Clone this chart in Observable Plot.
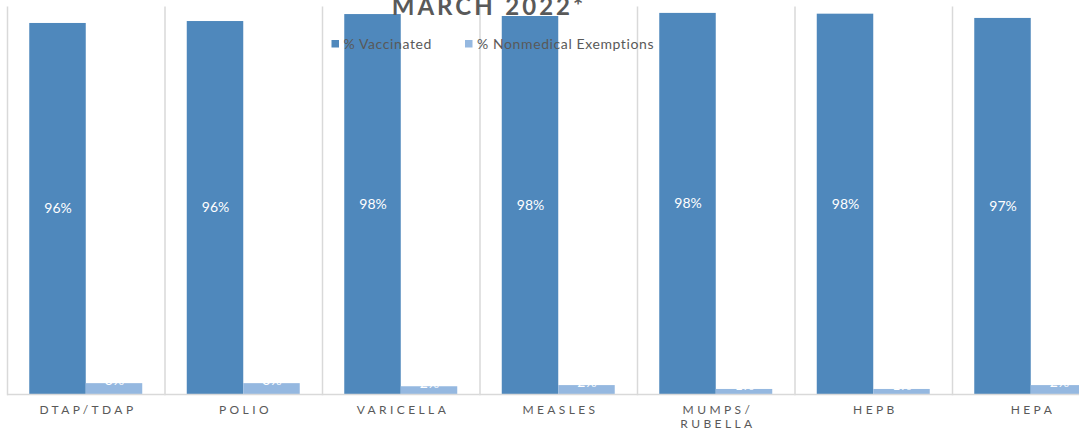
<!DOCTYPE html>
<html><head><meta charset="utf-8">
<script src="https://cdn.jsdelivr.net/npm/d3@7"></script>
<script src="https://cdn.jsdelivr.net/npm/@observablehq/plot@0.6"></script>
<style>
body{margin:0;background:#fff;overflow:hidden}
#chart{width:1079px;height:432px;overflow:hidden;position:relative}
[aria-label="fx-axis tick label"]{letter-spacing:3.4px}
</style></head><body><div id="chart"></div>
<script>
const categories = ["DTAP/TDAP","POLIO","VARICELLA","MEASLES","MUMPS/\nRUBELLA","HEPB","HEPA"];
const series = ["% Vaccinated","% Nonmedical Exemptions"];
const vaccinated = [95.8,96.3,98.1,97.6,98.4,98.2,97.1];
const exemptions = [2.8,2.8,2.0,2.3,1.3,1.3,2.3];
const colors = ["#4f88bc","#95b8e0"];
const title = "MARCH  2022*";

const data = categories.flatMap((c,i)=>[
  {category:c, series:series[0], value:vaccinated[i]},
  {category:c, series:series[1], value:exemptions[i]}
]);

const chart = Plot.plot({
  width: 1079,
  height: 432,
  marginTop: 6.7,
  marginBottom: 38,
  marginLeft: 7,
  marginRight: 0,
  style: {fontFamily: "Lato, 'Open Sans', sans-serif", fontSize: "12px", color: "#595959", background: "#fff"},
  fx: {domain: categories, range: [7, 1109.5], paddingInner: 0, paddingOuter: 0, round: false, label: null},
  x: {domain: series, paddingInner: 0, paddingOuter: 0.394, round: false, axis: null},
  y: {domain: [0, 100], axis: null},
  color: {domain: series, range: colors},
  marks: [
    Plot.frame({anchor: "left", stroke: "#d9d9d9", strokeWidth: 1.5}),
    Plot.barY(data, {fx: "category", x: "series", y: "value", fill: "series"}),
    Plot.ruleY([0], {stroke: "#d9d9d9", strokeWidth: 1.5}),
    Plot.text(data.filter(d => d.series === series[0]), {fx: "category", x: "series", y: d => d.value / 2, text: d => Math.round(d.value) + "%", fill: "white", fontSize: 14}),
    Plot.text(data.filter(d => d.series === series[1]), {fx: "category", x: "series", y: "value", text: d => Math.round(d.value) + "%", fill: "white", fontSize: 14, lineAnchor: "bottom", dy: 1}),
    Plot.axisFx({anchor: "bottom", tickSize: 0, tickPadding: 10, label: null, fontSize: 12, dx: 1.7, lineHeight: 1.15})
  ]
});

document.getElementById("chart").appendChild(chart);

const svg = d3.select(chart);
svg.append("text")
  .attr("x", 489).attr("y", 15)
  .attr("text-anchor", "middle")
  .attr("fill", "#595959")
  .attr("font-family", "Lato, 'Open Sans', sans-serif")
  .attr("font-size", 24)
  .attr("font-weight", "bold")
  .attr("letter-spacing", "3px")
  .attr("word-spacing", "-4px")
  .attr("xml:space", "preserve")
  .style("white-space", "pre")
  .text(title);

const legendX = [331.5, 465];
const lg = svg.append("g")
  .attr("font-family", "Lato, 'Open Sans', sans-serif")
  .attr("font-size", 14)
  .attr("letter-spacing", "0.6px")
  .attr("text-anchor", "start")
  .attr("fill", "#595959");
series.forEach((s, i) => {
  lg.append("rect").attr("x", legendX[i]).attr("y", 40).attr("width", 7.5).attr("height", 7.5).attr("fill", colors[i]);
  lg.append("text").attr("x", legendX[i] + 12).attr("y", 49).text(s);
});
</script>
</body></html>
